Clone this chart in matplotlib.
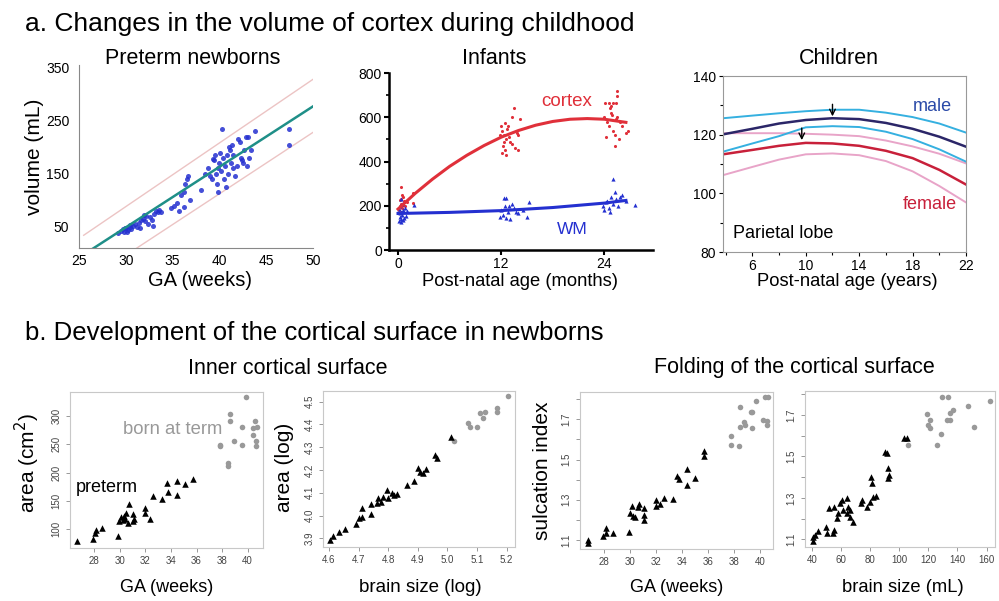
import numpy as np
import matplotlib
matplotlib.use('Agg')
import matplotlib.pyplot as plt

plt.rcParams.update({
    'font.family': ['Liberation Sans', 'DejaVu Sans'],
    'figure.facecolor': 'white',
    'axes.facecolor': 'white',
})

W, H = 999, 601
fig = plt.figure(figsize=(W / 100, H / 100), dpi=100)


def box(l, t, r, b):
    # axes from pixel edges (left, top, right, bottom)
    return fig.add_axes([l / W, 1 - b / H, (r - l) / W, (b - t) / H])


def label(x, y, s, **kw):
    fig.text(x / W, 1 - y / H, s, **kw)


BLUE = '#2430d0'
RED = '#e0303a'
GREY = '#999999'

# ── a1: preterm newborns ─────────────────────────────────────────────────────
pre_ga = [29.2, 29.5, 29.7, 29.8, 30.0, 30.2, 30.4, 30.6, 30.8, 31.0, 31.2, 31.4,
          31.6, 31.8, 31.9, 32.0, 32.2, 32.4, 32.6, 32.8, 33.0, 33.2, 33.4, 33.6,
          33.8, 32.9, 30.1, 29.9, 30.5, 31.5,
          34.8, 35.2, 35.5, 35.7, 35.9, 36.2, 36.3, 36.5, 36.6, 36.9, 36.2,
          38.0, 38.5, 38.8, 39.0, 39.2, 39.4, 39.5, 39.6, 39.7, 39.8, 39.9, 40.0,
          40.2, 40.3, 40.4, 40.5, 40.6, 40.7, 40.8, 40.9, 41.0, 41.1, 41.2, 41.4,
          41.5, 41.7, 41.9, 42.0, 42.2, 42.3, 42.4, 42.6, 42.8, 42.9, 43.1, 43.2,
          43.4, 43.8, 47.4, 47.4, 39.3, 40.1, 41.3, 42.5]
pre_vol = [38, 42, 45, 40, 48, 44, 50, 46, 52, 55, 50, 58,
           62, 65, 72, 60, 70, 55, 68, 62, 75, 80, 78, 82,
           77, 52, 40, 47, 53, 48,
           85, 90, 95, 80, 110, 115, 130, 140, 145, 100, 88,
           120, 150, 160, 145, 140, 175, 185, 150, 130, 115, 160, 170,
           155, 235, 180, 140, 165, 125, 185, 150, 200, 195, 170, 160,
           185, 145, 165, 215, 210, 180, 175, 195, 220, 165, 220, 180,
           195, 230, 235, 205, 178, 190, 205, 170]
fit_ga = [26.5, 50]
fit_vol = [9, 277]
hi_ga = [25.5, 50]
hi_vol = [34, 328]
lo_ga = [31.1, 50]
lo_vol = [9, 228]

ax = box(79, 65, 313, 248)
ax.plot(hi_ga, hi_vol, color='#ecc4c4', lw=1)
ax.plot(lo_ga, lo_vol, color='#ecc4c4', lw=1)
ax.scatter(pre_ga, pre_vol, s=13, color=BLUE, alpha=0.85, lw=0, zorder=3)
ax.plot(fit_ga, fit_vol, color='#1f8f88', lw=1.8, zorder=4)
ax.set_xlim(25, 50)
ax.set_ylim(10, 355)
ax.set_xticks([25, 30, 35, 40, 45, 50])
ax.set_yticks([50, 150, 250, 350])
ax.tick_params(length=0, labelsize=10)
ax.tick_params(axis='x', pad=4)
ax.tick_params(axis='y', pad=7)
for s in ['top', 'right']:
    ax.spines[s].set_visible(False)
for s in ['left', 'bottom']:
    ax.spines[s].set_color('#888888')
    ax.spines[s].set_linewidth(0.8)
label(193, 59, 'Preterm newborns', fontsize=15.5, ha='center', va='center')
label(35, 157, 'volume (mL)', fontsize=15, rotation=90, ha='center', va='center')
label(200, 281, 'GA (weeks)', fontsize=14.5, ha='center', va='center')

# ── a2: infants ──────────────────────────────────────────────────────────────
cx_age = [0.1, 0.2, 0.3, 0.4, 0.5, 0.6, 0.3, 0.7, 0.3, 0.8, 1.0, 1.7, 1.7, 0.5,
          0.4, 0.2, 0.6,
          12.0, 12.1, 12.3, 12.5, 12.2, 12.4, 12.6, 12.8, 13.0, 13.2, 13.5, 13.8,
          14.2, 14.0, 12.9, 11.9, 12.3, 12.7, 13.3, 12.1, 13.6, 13.9, 12.4,
          24.0, 24.3, 24.5, 24.8, 25.0, 25.2, 25.3, 25.5, 25.7, 25.2, 26.0, 26.5,
          24.2, 24.6, 24.8, 24.9, 25.8, 26.8,
          24.1, 24.5, 25.0, 25.4, 25.5, 25.5]
cx_vol = [180, 200, 210, 230, 190, 240, 170, 220, 285, 200, 215, 257, 211, 250,
          195, 225, 205,
          560, 540, 520, 500, 470, 450, 430, 560, 490, 600, 640, 530,
          590, 450, 510, 520, 490, 545, 480, 440, 460, 520, 575,
          600, 580, 560, 620, 540, 520, 590, 600, 500, 470, 560, 530,
          510, 640, 650, 610, 580, 540,
          664, 664, 664, 664, 694, 717]
wm_age = [0.1, 0.2, 0.3, 0.4, 0.5, 0.6, 0.2, 0.7, 0.8, 0.3, 0.5, 1.0, 1.8, 0.4,
          0.9, 0.2, 0.6, 0.1,
          11.8, 12.0, 12.2, 12.4, 12.6, 12.8, 13.0, 13.2, 13.5, 14.0, 14.5, 15.2,
          15.0, 12.3, 12.9, 13.7, 12.5,
          23.8, 24.0, 24.3, 24.5, 24.8, 25.0, 25.2, 25.4, 25.6, 25.0, 26.0, 26.5,
          27.5, 24.6, 25.8, 24.2]
wm_vol = [130, 150, 140, 170, 160, 180, 200, 145, 190, 125, 210, 175, 205, 230,
          155, 165, 135, 185,
          150, 180, 160, 200, 235, 170, 140, 210, 190, 165, 180, 215,
          150, 235, 200, 170, 145,
          200, 180, 220, 190, 240, 210, 260, 230, 200, 320, 250, 220,
          205, 170, 240, 215]
cx_fit_age = [0, 2, 4, 6, 8, 10, 12, 14, 16, 18, 20, 22, 24, 26.5]
cx_fit_vol = [185, 256, 320, 378, 428, 472, 510, 540, 564, 581, 591, 594, 591, 577]
wm_fit_age = [0, 6, 12, 18, 24, 26.5]
wm_fit_vol = [165, 170, 178, 192, 212, 224]

ax = box(389, 73, 653, 250)
ax.scatter(cx_age, cx_vol, s=5, color=RED, lw=0, zorder=3, clip_on=False)
ax.scatter(wm_age, wm_vol, s=9, marker='^', color=BLUE, lw=0, zorder=3, clip_on=False)
ax.plot(cx_fit_age, cx_fit_vol, color=RED, lw=2.2, zorder=4)
ax.plot(wm_fit_age, wm_fit_vol, color=BLUE, lw=2.2, zorder=4)
ax.set_xlim(-1.05, 29.65)
ax.set_ylim(0, 800)
ax.set_xticks([0, 12, 24])
ax.set_yticks([0, 200, 400, 600, 800])
ax.set_yticks([100, 300, 500, 700], minor=True)
ax.tick_params(which='major', length=3.6, width=1.5, labelsize=10, pad=1.5)
ax.tick_params(which='minor', length=2.5, width=1.2)
for s in ['top', 'right']:
    ax.spines[s].set_visible(False)
for s in ['left', 'bottom']:
    ax.spines[s].set_linewidth(1.8)
label(567, 101, 'cortex', fontsize=13.5, color=RED, ha='center', va='center')
label(572, 230, 'WM', fontsize=12.5, color=BLUE, ha='center', va='center')
label(494, 58, 'Infants', fontsize=15.5, ha='center', va='center')
label(520, 281, 'Post-natal age (months)', fontsize=13.2, ha='center', va='center')

# ── a3: children ─────────────────────────────────────────────────────────────
ch_age = [3.8, 6, 8, 10, 12, 14, 16, 18, 20, 22]
male_hi = [125.6, 126.5, 127.3, 128.0, 128.5, 128.5, 127.5, 126.0, 123.8, 120.7]
male_mid = [120.1, 122.0, 123.8, 125.0, 125.6, 125.3, 124.0, 122.0, 119.3, 115.9]
male_lo = [114.2, 117.0, 119.5, 122.5, 122.9, 122.6, 121.0, 118.5, 115.0, 110.8]
fem_hi = [120.5, 120.5, 120.5, 120.3, 120.0, 119.5, 118.0, 116.0, 113.5, 110.2]
fem_mid = [113.3, 114.8, 116.2, 117.2, 117.0, 116.2, 114.5, 112.0, 108.0, 103.0]
fem_lo = [106.2, 109.0, 111.5, 113.3, 113.6, 113.0, 111.0, 107.5, 102.5, 96.9]
peak_age = [12.0, 9.7]
peak_vol = [125.3, 117.2]

ax = box(723, 76, 966, 252)
ax.plot(ch_age, fem_hi, color='#e8a4c8', lw=1.4)
ax.plot(ch_age, fem_lo, color='#e8a4c8', lw=1.4)
ax.plot(ch_age, male_hi, color='#35b0e0', lw=1.4)
ax.plot(ch_age, male_lo, color='#35b0e0', lw=1.4)
ax.plot(ch_age, male_mid, color='#2b2668', lw=1.8)
ax.plot(ch_age, fem_mid, color='#c8203a', lw=1.8)
for a, v in zip(peak_age, peak_vol):
    ax.annotate('', xy=(a, v), xytext=(a, v + 6),
                arrowprops=dict(arrowstyle='->', color='black', lw=1.0))
ax.set_xlim(3.8, 22)
ax.set_ylim(80, 140)
ax.set_xticks([6, 10, 14, 18, 22])
ax.set_xticks([4, 8, 12, 16, 20], minor=True)
ax.set_yticks([80, 100, 120, 140])
ax.set_yticks([90, 110, 130], minor=True)
ax.tick_params(which='major', length=3, width=0.8, labelsize=10, pad=2)
ax.tick_params(which='minor', length=2.5, width=0.8)
for s in ax.spines.values():
    s.set_color('#999999')
    s.set_linewidth(0.8)
label(932, 106, 'male', fontsize=13, color='#2a4aa8', ha='center', va='center')
label(930, 205, 'female', fontsize=13, color='#c8203a', ha='center', va='center')
label(733, 233, 'Parietal lobe', fontsize=13, ha='left', va='center')
label(839, 58, 'Children', fontsize=15.5, ha='center', va='center')
label(847, 282, 'Post-natal age (years)', fontsize=13.2, ha='center', va='center')

# ── b: cortical surface ──────────────────────────────────────────────────────
pt_ga = [26.67, 27.87, 28.05, 28.1, 28.58, 29.88, 29.96, 30.1, 30.3, 30.4, 30.6,
         30.7, 31.06, 31.1, 31.06, 32.0, 32.0, 32.37, 32.6, 33.3, 33.67, 33.75,
         34.46, 34.5, 35.1, 35.76, 30.27, 30.5]
pt_area = [79, 83, 93, 98, 103, 89, 115, 122, 124, 119, 111,
           144, 127, 119, 115, 138, 129, 119, 158, 153, 181, 165,
           185, 161, 180, 188, 117, 128]
tm_ga = [37.86, 37.86, 38.6, 38.65, 38.5, 38.5, 38.9, 39.55, 39.55, 39.87,
         40.4, 40.4, 40.6, 40.65, 40.67, 40.7]
tm_area = [249, 246, 303, 290, 216, 212, 256, 281, 249, 334,
           266, 278, 290, 255, 247, 281]

pt_lbrain = [4.603, 4.615, 4.634, 4.654, 4.691, 4.701, 4.71, 4.713, 4.741, 4.741,
             4.761, 4.767, 4.775, 4.781, 4.795, 4.798, 4.812, 4.82, 4.829, 4.865,
             4.887, 4.902, 4.907, 4.919, 4.928, 4.958, 4.964, 5.012]
pt_larea = [3.893, 3.912, 3.929, 3.94, 3.961, 3.991, 3.995, 4.032, 4.007, 4.051,
            4.054, 4.076, 4.061, 4.083, 4.112, 4.076, 4.098, 4.09, 4.095, 4.134,
            4.152, 4.21, 4.193, 4.185, 4.203, 4.266, 4.251, 4.347]
tm_lbrain = [5.022, 5.071, 5.076, 5.099, 5.11, 5.121, 5.127, 5.166, 5.166, 5.206]
tm_larea = [4.329, 4.405, 4.39, 4.39, 4.449, 4.427, 4.456, 4.474, 4.456, 4.525]

pt_ga2 = [26.72, 26.72, 27.92, 28.13, 28.13, 28.64, 29.92, 29.97, 30.1, 30.18,
          30.36, 30.6, 30.7, 31.05, 31.05, 31.05, 32.0, 32.0, 32.3, 32.6,
          33.26, 33.56, 33.74, 34.38, 34.38, 34.97, 35.67, 35.67]
pt_si = [1.10, 1.087, 1.12, 1.158, 1.136, 1.133, 1.141, 1.233, 1.27, 1.221,
         1.216, 1.263, 1.279, 1.258, 1.224, 1.20, 1.30, 1.27, 1.28, 1.31,
         1.306, 1.418, 1.403, 1.452, 1.374, 1.407, 1.543, 1.52]
tm_ga2 = [37.74, 37.74, 38.36, 38.44, 38.44, 38.77, 38.82, 39.38, 39.38, 39.67,
          40.36, 40.6, 39.3, 40.2, 40.5, 40.5]
tm_si = [1.619, 1.573, 1.568, 1.76, 1.66, 1.689, 1.672, 1.738, 1.655, 1.792,
         1.813, 1.813, 1.737, 1.697, 1.69, 1.672]

pt_brain = [40.7, 41.1, 42.3, 44.6, 49.8, 50.3, 54.9, 55.3, 52.1, 55.3,
            57.6, 58.3, 59.4, 60.6, 61.7, 64.0, 64.0, 65.1, 66.3, 66.3,
            68.1, 73.8, 74.3, 78.0, 79.7, 80.5, 81.6, 82.3, 84.1, 90.3,
            91.4, 92.1, 92.1, 93.3, 103.3, 105.1]
pt_si2 = [1.113, 1.092, 1.121, 1.142, 1.158, 1.132, 1.129, 1.145, 1.25, 1.258,
          1.201, 1.226, 1.274, 1.29, 1.242, 1.301, 1.226, 1.258, 1.21, 1.242,
          1.185, 1.274, 1.29, 1.258, 1.282, 1.403, 1.37, 1.306, 1.309, 1.523,
          1.515, 1.443, 1.395, 1.41, 1.591, 1.588]
tm_brain = [106.3, 118.9, 120.0, 121.1, 121.1, 125.7, 128.5, 129.6, 133.7, 132.6,
            134.9, 134.9, 136.7, 147.4, 151.3, 162.7]
tm_si2 = [1.556, 1.704, 1.652, 1.676, 1.636, 1.556, 1.607, 1.789, 1.789, 1.676,
          1.676, 1.712, 1.722, 1.744, 1.644, 1.77]


def rpanel(rect, xs_pt, ys_pt, xs_tm, ys_tm, xlim, ylim, xt, yt, ytl, yminor=None):
    ax = box(*rect)
    ax.scatter(xs_tm, ys_tm, s=16, color=GREY, lw=0, zorder=3)
    ax.scatter(xs_pt, ys_pt, s=22, marker='^', color='black', lw=0, zorder=4)
    ax.set_xlim(*xlim)
    ax.set_ylim(*ylim)
    ax.set_xticks(xt)
    ax.set_xticklabels([str(v) for v in xt])
    ax.set_yticks(yt)
    ax.set_yticklabels(ytl, rotation=90, va='center')
    if yminor:
        ax.set_yticks(yminor, minor=True)
    ax.tick_params(which='both', length=3, width=0.6, color='#888888',
                   labelsize=7, labelcolor='#444444', pad=3)
    for s in ax.spines.values():
        s.set_color('#c8c8c8')
        s.set_linewidth(0.8)
    return ax


rpanel((70, 392, 263, 548), pt_ga, pt_area, tm_ga, tm_area,
       (26.1, 41.2), (67, 342), [28, 30, 32, 34, 36, 38, 40],
       [100, 150, 200, 250, 300], ['100', '150', '200', '250', '300'])
rpanel((323, 391, 515, 547), pt_lbrain, pt_larea, tm_lbrain, tm_larea,
       (4.58, 5.228), (3.862, 4.547), [4.6, 4.7, 4.8, 4.9, 5.0, 5.1, 5.2],
       [3.9, 4.0, 4.1, 4.2, 4.3, 4.4, 4.5],
       ['3.9', '4.0', '4.1', '4.2', '4.3', '4.4', '4.5'])
rpanel((580, 392, 773, 549), pt_ga2, pt_si, tm_ga2, tm_si,
       (26.13, 40.98), (1.055, 1.836), [28, 30, 32, 34, 36, 38, 40],
       [1.1, 1.3, 1.5, 1.7], ['1.1', '1.3', '1.5', '1.7'], [1.2, 1.4, 1.6, 1.8])
rpanel((805, 391, 995, 547), pt_brain, pt_si2, tm_brain, tm_si2,
       (35.4, 165.8), (1.063, 1.816), [40, 60, 80, 100, 120, 140, 160],
       [1.1, 1.3, 1.5, 1.7], ['1.1', '1.3', '1.5', '1.7'], [1.2, 1.4, 1.6, 1.8])

label(25, 24, 'a. Changes in the volume of cortex during childhood',
      fontsize=19, ha='left', va='center')
label(25, 333, 'b. Development of the cortical surface in newborns',
      fontsize=18.5, ha='left', va='center')
label(288, 368, 'Inner cortical surface', fontsize=15.5, ha='center', va='center')
label(794, 368, 'Folding of the cortical surface', fontsize=15.5, ha='center', va='center')

label(27, 463, 'area (cm$^2$)', fontsize=15, rotation=90, ha='center', va='center')
label(285, 467, 'area (log)', fontsize=15, rotation=90, ha='center', va='center')
label(543, 471, 'sulcation index', fontsize=15, rotation=90, ha='center', va='center')
label(167, 587, 'GA (weeks)', fontsize=13, ha='center', va='center')
label(420, 587, 'brain size (log)', fontsize=13.5, ha='center', va='center')
label(677, 587, 'GA (weeks)', fontsize=13, ha='center', va='center')
label(903, 587, 'brain size (mL)', fontsize=13.2, ha='center', va='center')
label(76, 487, 'preterm', fontsize=13, ha='left', va='center')
label(123, 429, 'born at term', fontsize=13.3, color='#999999', ha='left', va='center')

fig.savefig('out.png', dpi=100)
